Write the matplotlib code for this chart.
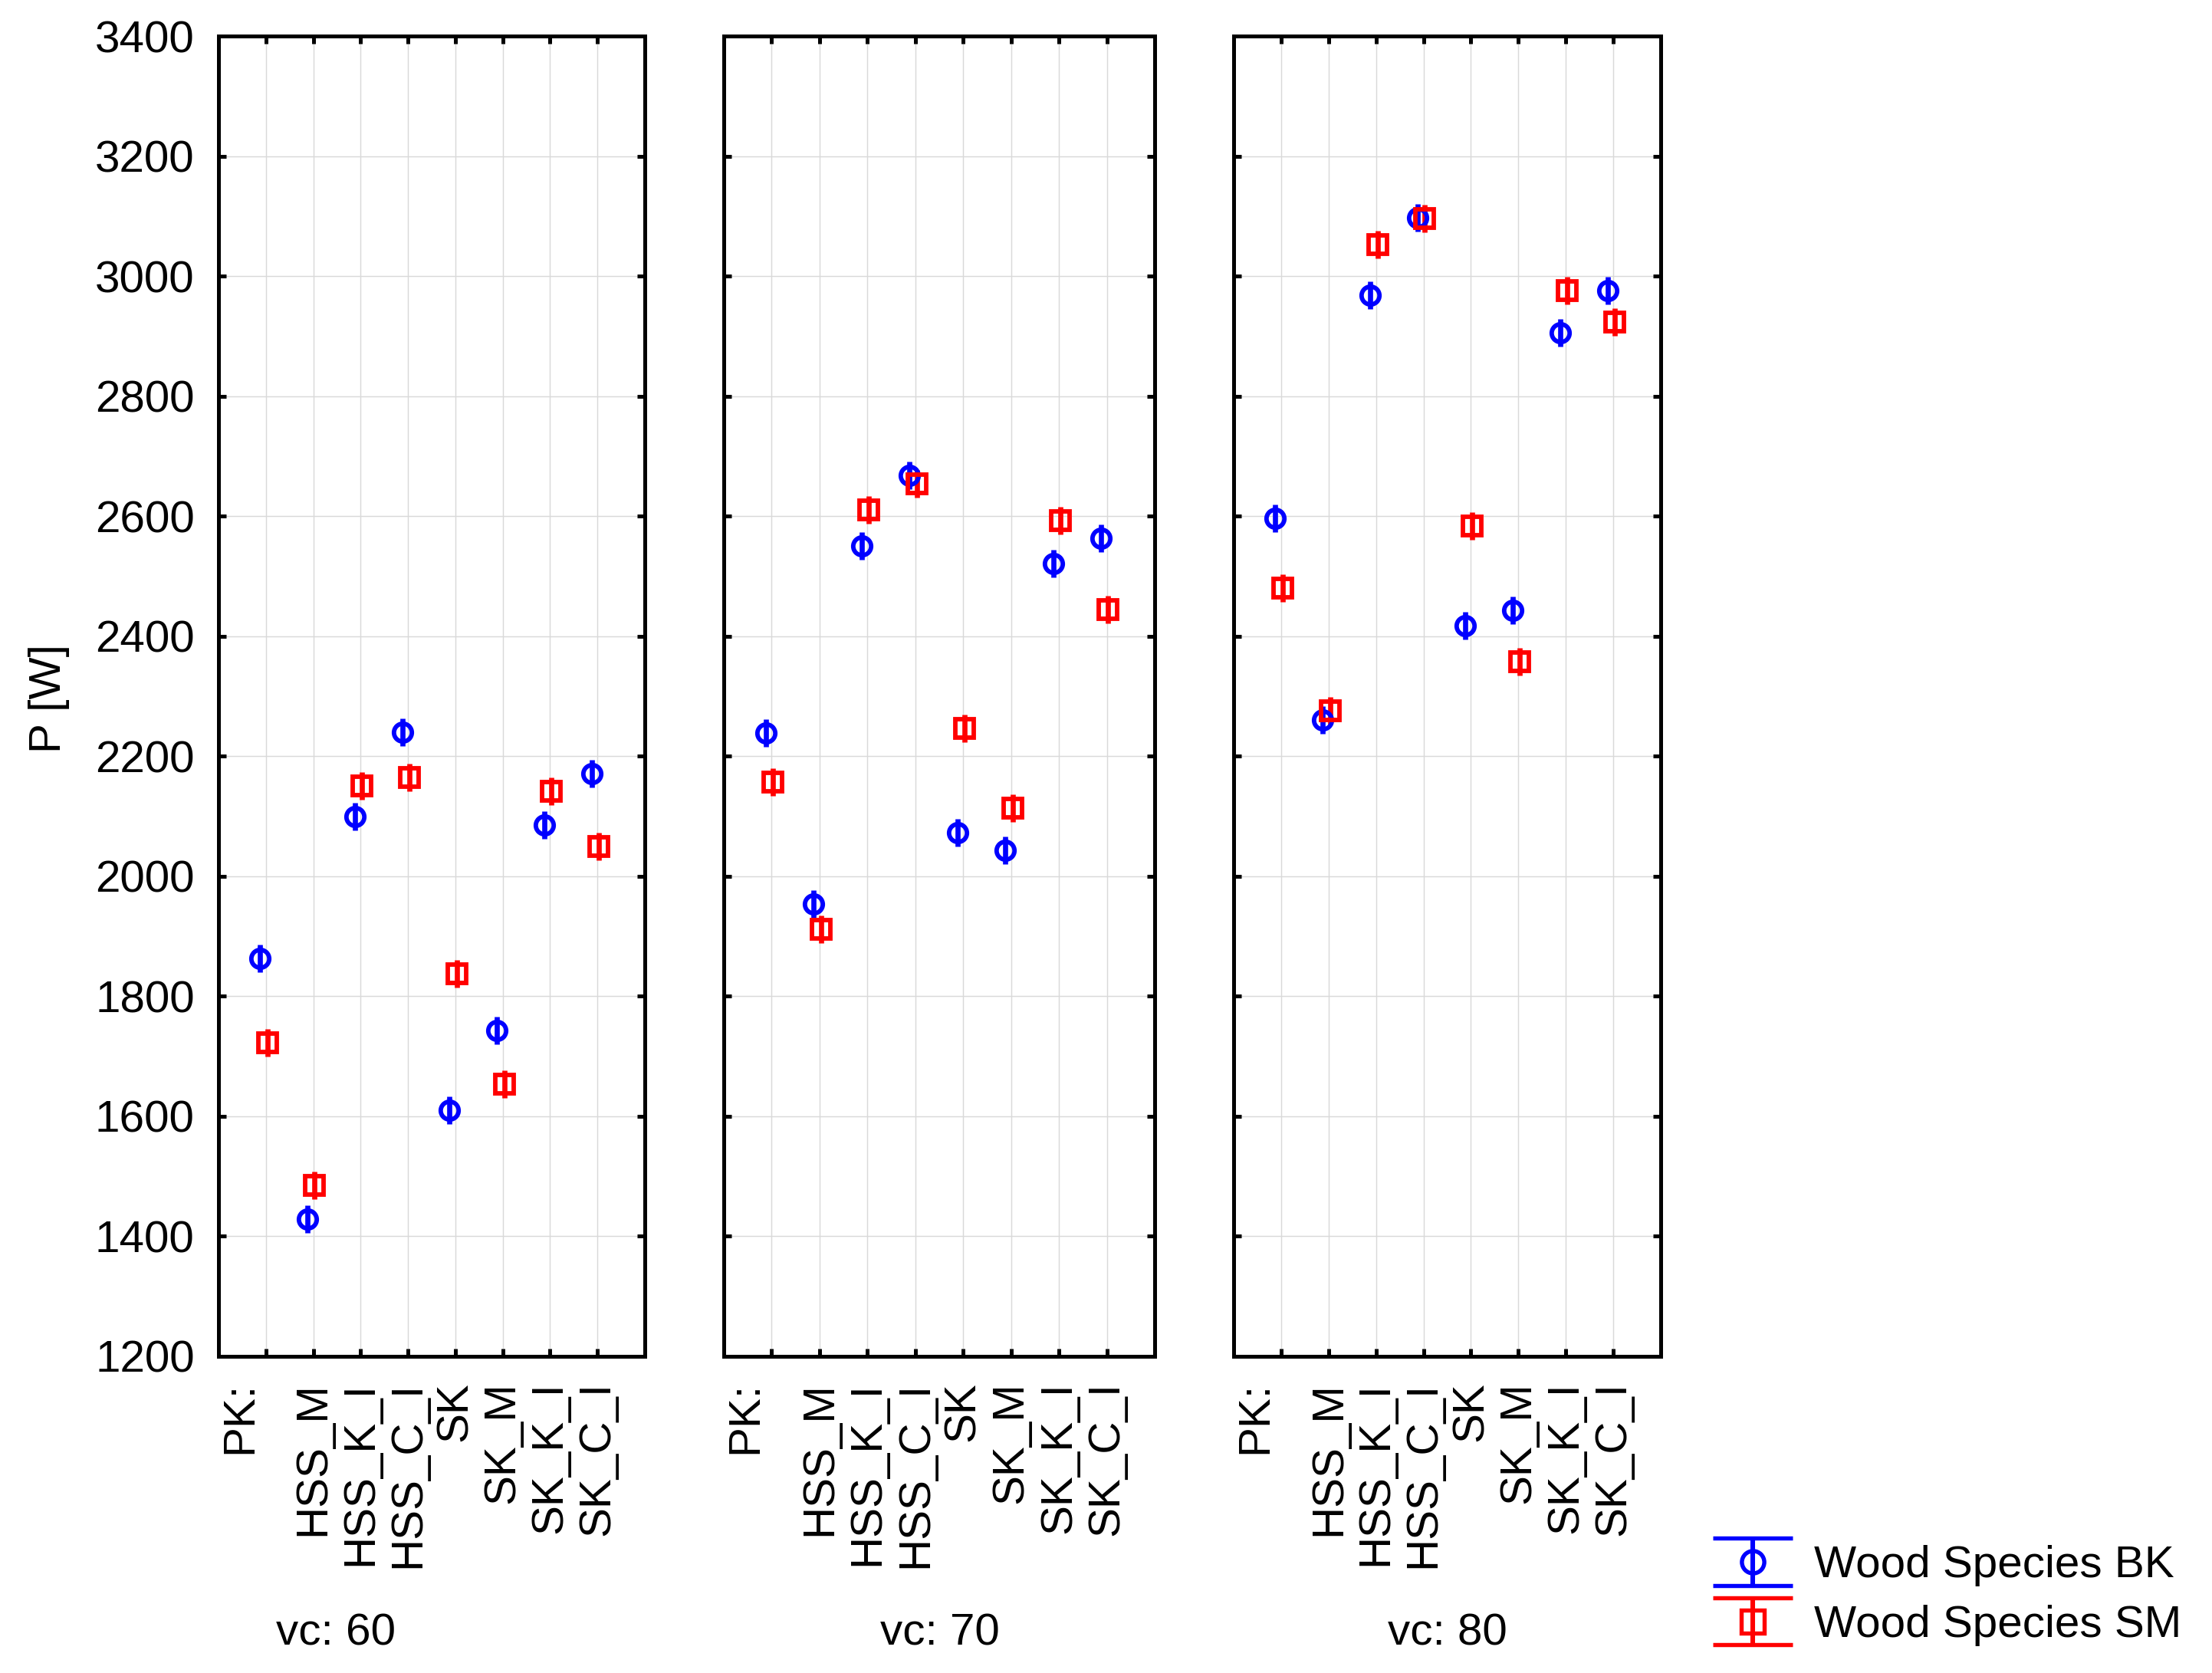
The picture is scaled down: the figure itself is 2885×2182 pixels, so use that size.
import numpy as np
import matplotlib.pyplot as plt
from matplotlib.container import ErrorbarContainer
from matplotlib.legend_handler import HandlerErrorbar
from matplotlib.transforms import ScaledTranslation

plt.rcParams['font.family'] = ['Liberation Sans', 'DejaVu Sans']

# categories on the x axis of every panel
categories = ['PK:', 'HSS_M', 'HSS_K_I', 'HSS_C_I', 'SK', 'SK_M', 'SK_K_I', 'SK_C_I']
speeds = ['vc: 60', 'vc: 70', 'vc: 80']

# mean power P [W], one row per cutting speed
bk_means = [
    [1863, 1429, 2100, 2240, 1610, 1743, 2086, 2171],
    [2239, 1954, 2550, 2668, 2073, 2043, 2521, 2563],
    [2597, 2261, 2968, 3097, 2418, 2443, 2906, 2976],
]
sm_means = [
    [1723, 1485, 2150, 2165, 1837, 1654, 2141, 2050],
    [2157, 1911, 2611, 2654, 2246, 2114, 2592, 2445],
    [2480, 2276, 3053, 3096, 2583, 2358, 2976, 2923],
]
# half-length of the error bars
bk_err = [
    [23, 23, 23, 23, 23, 23, 23, 23],
    [23, 23, 23, 23, 23, 23, 23, 23],
    [23, 23, 23, 23, 23, 23, 23, 23],
]
sm_err = [
    [23, 23, 23, 23, 23, 23, 23, 23],
    [23, 23, 23, 23, 23, 23, 23, 23],
    [23, 23, 23, 23, 23, 23, 23, 23],
]

W, H = 2886, 2182
fig = plt.figure(figsize=(W / 300, H / 300), dpi=300)

panel_px = [(285, 841), (944, 1506), (1609, 2166)]
top_px, bottom_px = 47, 1769
label_x_px = [438, 1226, 1888]

blue = '#0000ff'
red = '#ff0000'
x = np.arange(1, len(categories) + 1)

axes = []
for i, (l, r) in enumerate(panel_px):
    ax = fig.add_axes([l / W, 1 - bottom_px / H, (r - l) / W, (bottom_px - top_px) / H])
    axes.append(ax)

    ax.errorbar(x - 0.12, bk_means[i], yerr=bk_err[i], fmt='o', color=blue, mfc='none',
                ms=5.6, mew=1.4, elinewidth=1.6, capsize=0, zorder=3)
    ax.errorbar(x + 0.03, sm_means[i], yerr=sm_err[i], fmt='s', color=red, mfc='none',
                ms=5.6, mew=1.4, elinewidth=1.6, capsize=0, zorder=3)

    ax.set_xlim(0, 9)
    ax.set_ylim(1200, 3400)
    ax.set_xticks(x)
    ax.set_xticklabels(categories, rotation=90)
    ax.set_yticks(np.arange(1200, 3401, 200))
    ax.grid(True, color='#d9d9d9', linewidth=0.35)
    ax.set_axisbelow(True)
    ax.tick_params(direction='in', top=True, right=True, length=2.4, width=1.2,
                   labelsize=14, colors='black')
    ax.tick_params(axis='y', pad=7.5)
    ax.tick_params(axis='x', pad=8)
    for sp in ax.spines.values():
        sp.set_linewidth(1.2)
    if i > 0:
        ax.tick_params(labelleft=False)

    # "PK:" sits a bit left of its tick
    first = ax.get_xticklabels()[0]
    first.set_transform(first.get_transform() + ScaledTranslation(-34 / 300, 0, fig.dpi_scale_trans))

    fig.text(label_x_px[i] / W, 1 - 2130 / H, speeds[i], ha='center', va='center', fontsize=14)

fig.text(64 / W, 1 - 911 / H, 'P [W]', rotation=90, ha='center', va='center', fontsize=14)

# legend keys with caps
pb = axes[0].errorbar([np.nan], [np.nan], yerr=[1], fmt='o', color=blue, mfc='none', ms=7,
                      mew=1.3, elinewidth=1.45, capsize=12.4, capthick=1.55)
pr = axes[0].errorbar([np.nan], [np.nan], yerr=[1], fmt='s', color=red, mfc='none', ms=7,
                      mew=1.3, elinewidth=1.45, capsize=12.4, capthick=1.55)
fig.legend(handles=[pb, pr], labels=['Wood Species BK', 'Wood Species SM'],
           loc='center left', bbox_to_anchor=(2234 / W, 1 - 2081 / H), frameon=False,
           fontsize=14, handlelength=1.77, handletextpad=0.5, labelspacing=0.41,
           borderpad=0, borderaxespad=0,
           handler_map={ErrorbarContainer: HandlerErrorbar(xerr_size=0.5, yerr_size=0.53)})

fig.savefig('out.png', dpi=300)
